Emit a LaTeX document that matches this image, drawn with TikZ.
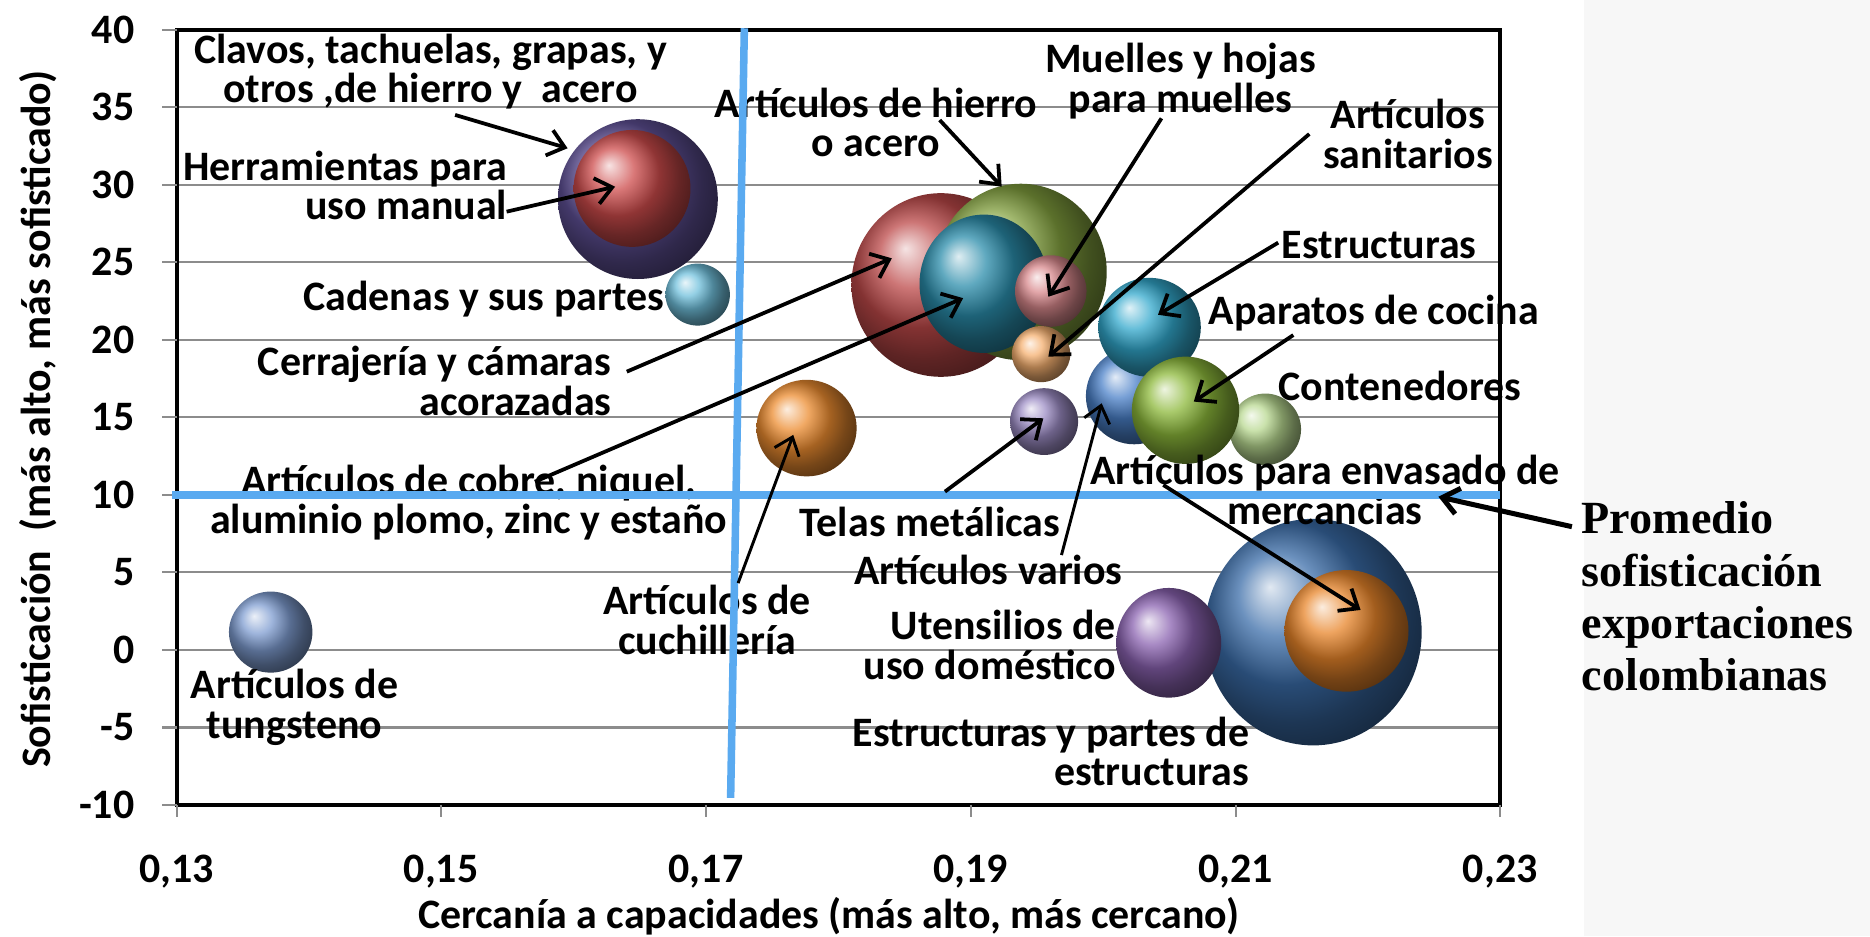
\documentclass[tikz,border=0pt]{standalone}
\usepackage{fontspec}
\setmainfont{Carlito}
\newfontfamily\promfont{Liberation Serif}
\usetikzlibrary{shapes.geometric}
\usetikzlibrary{arrows.meta}

\definecolor{avgblue}{RGB}{90,170,240}
\definecolor{cClavos}{RGB}{95,80,150}
\definecolor{cHerr}{RGB}{205,75,75}
\definecolor{cCadenas}{RGB}{112,192,220}
\definecolor{cCerr}{RGB}{188,72,72}
\definecolor{cHierro}{RGB}{130,160,62}
\definecolor{cCobre}{RGB}{42,140,170}
\definecolor{cMuelles}{RGB}{216,136,140}
\definecolor{cSanit}{RGB}{245,176,112}
\definecolor{cEstruct}{RGB}{50,168,204}
\definecolor{cVarios}{RGB}{74,128,200}
\definecolor{cAparatos}{RGB}{140,184,58}
\definecolor{cConten}{RGB}{184,216,144}
\definecolor{cTelas}{RGB}{156,140,196}
\definecolor{cCuchi}{RGB}{236,140,48}
\definecolor{cEstrpart}{RGB}{58,108,168}
\definecolor{cEnvas}{RGB}{232,133,42}
\definecolor{cUtens}{RGB}{138,98,176}
\definecolor{cTung}{RGB}{126,156,208}

\begin{document}
\begin{tikzpicture}[
    x=222cm, y=0.26cm,
    every node/.style={font=\fontsize{20}{19}\selectfont\bfseries, inner sep=0pt},
    lbl/.style={align=center},
    rlbl/.style={align=right, anchor=east},
    bub/.style={ellipse, inner sep=0pt},
    arr/.style={-{Straight Barb[length=2.7mm, width=4.4mm]}, line width=1.8pt},
    gridln/.style={draw=black!45, line width=1pt},
    avg/.style={draw=avgblue, line width=3.6pt}
]
\useasboundingbox (0.116667,-18.4615) rectangle (0.257928,41.923);

% Background strip at the right
\fill[black!3] (0.23631,-18.4615) rectangle (0.257928,41.923);

% Grid lines
\foreach \yv in {-5,0,...,35}
    \draw[gridln] (0.13,\yv) -- (0.23,\yv);

% Bubbles
\node[bub, ball color=cClavos, minimum width=2.68cm, minimum height=2.68cm] (bClavos) at (0.16486,29.08) {};
\node[bub, ball color=cHerr, minimum width=1.96cm, minimum height=1.96cm] (bHerr) at (0.16441,29.77) {};
\node[bub, ball color=cCadenas, minimum width=1.08cm, minimum height=1.04cm] (bCadenas) at (0.16937,22.92) {};
\node[bub, ball color=cCerr, minimum width=3.0cm, minimum height=3.08cm] (bCerr) at (0.18775,23.54) {};
\node[bub, ball color=cHierro, minimum width=2.88cm, minimum height=2.96cm] (bHierro) at (0.19378,24.38) {};
\node[bub, ball color=cCobre, minimum width=2.16cm, minimum height=2.32cm] (bCobre) at (0.19099,23.62) {};
\node[bub, ball color=cMuelles, minimum width=1.2cm, minimum height=1.2cm] (bMuelles) at (0.19604,23.15) {};
\node[bub, ball color=cSanit, minimum width=0.98cm, minimum height=0.94cm] (bSanit) at (0.19532,19.08) {};
\node[bub, ball color=cVarios, minimum width=1.62cm, minimum height=1.62cm] (bVarios) at (0.20234,16.38) {};
\node[bub, ball color=cEstruct, minimum width=1.72cm, minimum height=1.66cm] (bEstruct) at (0.20351,20.81) {};
\node[bub, ball color=cConten, minimum width=1.2cm, minimum height=1.2cm] (bConten) at (0.21225,14.23) {};
\node[bub, ball color=cAparatos, minimum width=1.8cm, minimum height=1.8cm] (bAparatos) at (0.20622,15.46) {};
\node[bub, ball color=cTelas, minimum width=1.14cm, minimum height=1.12cm] (bTelas) at (0.19554,14.73) {};
\node[bub, ball color=cCuchi, minimum width=1.68cm, minimum height=1.62cm] (bCuchi) at (0.17760,14.31) {};
\node[bub, ball color=cEstrpart, minimum width=3.64cm, minimum height=3.8cm] (bEstrpart) at (0.21586,1.15) {};
\node[bub, ball color=cEnvas, minimum width=2.08cm, minimum height=2.04cm] (bEnvas) at (0.21838,1.23) {};
\node[bub, ball color=cUtens, minimum width=1.76cm, minimum height=1.84cm] (bUtens) at (0.20495,0.46) {};
\node[bub, ball color=cTung, minimum width=1.4cm, minimum height=1.36cm] (bTung) at (0.13712,1.15) {};

% Labels
\node[lbl] (clavos) at (0.14919,37.31) {Clavos, tachuelas, grapas, y\\otros ,de hierro y\ \ acero};
\node[rlbl] (herr) at (0.15500,29.96) {Herramientas para\\uso manual};
\node[anchor=east] (cadenas) at (0.16685,22.62) {Cadenas y sus partes};
\node[rlbl] (cerr) at (0.16288,17.35) {Cerrajería y cámaras\\acorazadas};
\node[lbl] (cobre) at (0.15207,9.51) {Artículos de cobre, niquel,\\aluminio plomo, zinc y estaño};
\node[lbl] (hierro) at (0.18284,34.02) {Artículos de hierro\\o acero};
\node[lbl] (muelles) at (0.20586,36.69) {Muelles y hojas\\para muelles};
\node[lbl] (sanit) at (0.22302,33.27) {Artículos\\sanitarios};
\node (estruct) at (0.22086,26.12) {Estructuras};
\node (aparatos) at (0.22045,21.72) {Aparatos de cocina};
\node (conten) at (0.22243,17.0) {Contenedores};
\node[lbl] (envas) at (0.21676,10.31) {Artículos para envasado de\\mercancias};
\node (telas) at (0.18692,8.28) {Telas metálicas};
\node (varios) at (0.19133,5.15) {Artículos varios};
\node[rlbl] (utens) at (0.20099,0.31) {Utensilios de\\uso doméstico};
\node[rlbl] (estrpart) at (0.21108,-6.55) {Estructuras y partes de\\estructuras};
\node[lbl] (cuchi) at (0.17009,1.94) {Artículos de\\cuchillería};
\node[lbl] (tung) at (0.13892,-3.69) {Artículos de\\tungsteno};
\node[anchor=west, align=left, font=\fontsize{22}{25}\selectfont\promfont\bfseries] (prom) at (0.23613,3.44) {Promedio\\sofisticación\\exportaciones\\colombianas};

% Frame and ticks
\draw[line width=1.9pt] (0.13,-10) rectangle (0.23,40);
\foreach \yv [count=\i] in {-10,-5,...,40} {
    \draw[black!45, line width=1pt] (0.13,\yv) -- (0.12892,\yv);
    \node[anchor=east] (yl\i) at (0.126847,\yv) {\yv};
}
\foreach \xv/\xl [count=\i] in {0.13/{0,13},0.15/{0,15},0.17/{0,17},0.19/{0,19},0.21/{0,21},0.23/{0,23}} {
    \draw[black!45, line width=1pt] (\xv,-10) -- (\xv,-10.77);
    \node (xl\i) at (\xv,-14.31) {\xl};
}

% Axis titles
\node (xtitle) at (0.17928,-17.2) {Cercanía a capacidades (más alto, más cercano)};
\node[rotate=90] (ytitle) at (0.11959,14.88) {Sofisticación\ \ (más alto, más sofisticado)};

% Average lines
\draw[avg] (0.17290,40.1) -- (0.171865,-9.54);
\draw[avg] (0.12967,10) -- (0.23,10);

% Arrow ends
\coordinate (tClavos) at (0.15104,34.51);   \coordinate (hClavos) at (0.15955,32.36);
\coordinate (tHerr) at (0.15494,28.27);     \coordinate (hHerr) at (0.16313,29.88);
\coordinate (tCerr) at (0.16401,17.95);     \coordinate (hCerr) at (0.18403,25.26);
\coordinate (tCobre) at (0.15708,10.85);    \coordinate (hCobre) at (0.18943,22.69);
\coordinate (tHierro) at (0.18766,34.18);   \coordinate (hHierro) at (0.19234,29.88);
\coordinate (tMuelles) at (0.20441,34.29);  \coordinate (hMuelles) at (0.19586,22.78);
\coordinate (tSanit) at (0.21558,33.28);    \coordinate (hSanit) at (0.19586,18.92);
\coordinate (tEstruct) at (0.21323,26.27);  \coordinate (hEstruct) at (0.20414,21.62);
\coordinate (tAparatos) at (0.21437,20.31); \coordinate (hAparatos) at (0.20685,16.02);
\coordinate (tEnvas) at (0.20455,10.64);    \coordinate (hEnvas) at (0.21945,2.58);
\coordinate (tTelas) at (0.18805,10.21);    \coordinate (hTelas) at (0.19548,14.94);
\coordinate (tVarios) at (0.19686,6.12);    \coordinate (hVarios) at (0.19989,15.91);
\coordinate (tCuchi) at (0.17243,4.31);     \coordinate (hCuchi) at (0.17659,13.87);
\coordinate (tProm) at (0.23541,7.95);      \coordinate (hProm) at (0.22532,9.88);

% Arrows
\draw[arr] (tClavos) -- (hClavos);
\draw[arr] (tHerr) -- (hHerr);
\draw[arr] (tCerr) -- (hCerr);
\draw[arr] (tCobre) -- (hCobre);
\draw[arr] (tHierro) -- (hHierro);
\draw[arr] (tMuelles) -- (hMuelles);
\draw[arr] (tSanit) -- (hSanit);
\draw[arr] (tEstruct) -- (hEstruct);
\draw[arr] (tAparatos) -- (hAparatos);
\draw[arr] (tEnvas) -- (hEnvas);
\draw[arr] (tTelas) -- (hTelas);
\draw[arr, line width=1.4pt] (tVarios) -- (hVarios);
\draw[arr, line width=1.4pt] (tCuchi) -- (hCuchi);
\draw[arr, line width=2.4pt] (tProm) -- (hProm);

\end{tikzpicture}
\end{document}
